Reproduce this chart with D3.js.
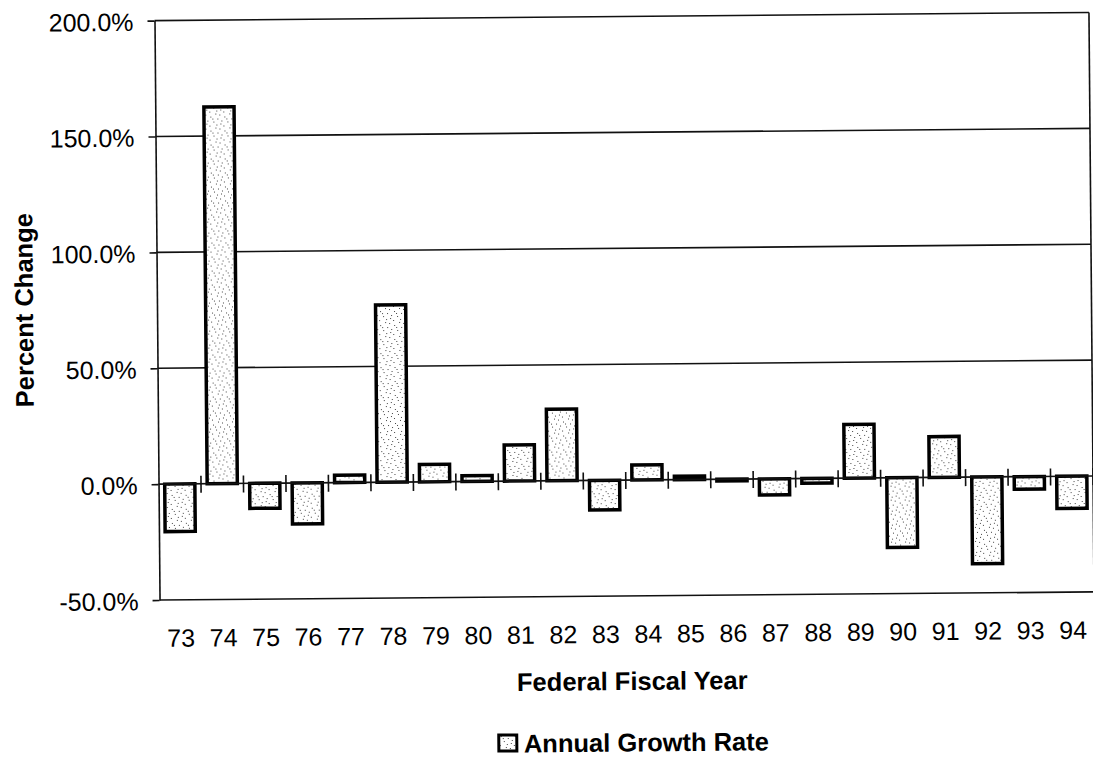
<!DOCTYPE html>
<html>
<head>
<meta charset="utf-8">
<script src="https://cdn.jsdelivr.net/npm/d3@7"></script>
<style>
  body { margin: 0; background: #fff; }
  svg { display: block; }
</style>
</head>
<body>
<svg id="chart" width="1093" height="757"></svg>
<script>
// Federal fiscal years (19xx) and the annual growth rate for each, in percent
const years = ["73","74","75","76","77","78","79","80","81","82","83",
               "84","85","86","87","88","89","90","91","92","93","94"];
const growthRate = [-20.5, 162.5, -10.8, -17.7, 3.2, 76.5, 7.5, 2.5, 15.6, 30.9, -12.8,
                    6.5, 1.5, -0.7, -6.9, -2.0, 23.2, -30.1, 17.6, -37.4, -5.4, -13.9];
const yTicks = [-50, 0, 50, 100, 150, 200];
const gridValues = [-50, 50, 100, 150, 200];
const seriesName = "Annual Growth Rate";
const xTitle = "Federal Fiscal Year";
const yTitle = "Percent Change";

const svg = d3.select("#chart");
const plot = { left: 157, right: 1091.5, top: 16.5, bottom: 596 };

// The whole page sits a touch off square, as a scanned sheet does
const root = svg.append("g").attr("transform", "rotate(-0.5, 624, 306)");

const x = d3.scaleBand()
  .domain(years)
  .range([plot.left, plot.right])
  .paddingInner(0.29)
  .paddingOuter(0.145);

const y = d3.scaleLinear()
  .domain([-50, 200])
  .range([plot.bottom, plot.top]);

// Stippled fill used by the bars and the legend swatch
const defs = svg.append("defs");
const pat = defs.append("pattern")
  .attr("id", "stipple")
  .attr("patternUnits", "userSpaceOnUse")
  .attr("width", 14).attr("height", 14);
pat.append("rect").attr("width", 14).attr("height", 14).attr("fill", "#fff");
[[2,1],[9,3],[5,6],[12,8],[1,10],[7,12],[11,13],[4,3],[13,5],[8,9]].forEach(([px, py]) => {
  pat.append("rect").attr("x", px).attr("y", py).attr("width", 1).attr("height", 1).attr("fill", "#444");
});

// Horizontal gridlines (top and bottom lines close the frame)
root.append("g").selectAll("line")
  .data(gridValues)
  .join("line")
  .attr("x1", plot.left).attr("x2", plot.right)
  .attr("y1", d => y(d)).attr("y2", d => y(d))
  .attr("stroke", "#111").attr("stroke-width", 1.6);

// Right edge of the frame
root.append("line")
  .attr("x1", plot.right).attr("x2", plot.right)
  .attr("y1", y(200)).attr("y2", y(-50))
  .attr("stroke", "#111").attr("stroke-width", 1.6);

// Bars
root.append("g").selectAll("rect")
  .data(years.map((yr, i) => ({ yr, v: growthRate[i] })))
  .join("rect")
  .attr("x", d => x(d.yr))
  .attr("width", x.bandwidth())
  .attr("y", d => y(Math.max(0, d.v)))
  .attr("height", d => Math.abs(y(d.v) - y(0)))
  .attr("fill", "url(#stipple)")
  .attr("stroke", "#000")
  .attr("stroke-width", 3.5);

// Zero line with category separator ticks crossing it
const zeroY = y(0);
root.append("line")
  .attr("x1", plot.left).attr("x2", plot.right)
  .attr("y1", zeroY).attr("y2", zeroY)
  .attr("stroke", "#111").attr("stroke-width", 1.6);

const step = x.step();
const boundaries = years.map(yr => x(yr) + x.bandwidth() + step * x.paddingOuter());
root.append("g").selectAll("line")
  .data(boundaries)
  .join("line")
  .attr("x1", d => d).attr("x2", d => d)
  .attr("y1", zeroY - 8).attr("y2", zeroY + 9)
  .attr("stroke", "#111").attr("stroke-width", 1.6);

// Y axis
const yAxis = root.append("g")
  .attr("transform", `translate(${plot.left},0)`)
  .call(d3.axisLeft(y)
    .tickValues(yTicks)
    .tickSize(7)
    .tickSizeOuter(0)
    .tickPadding(14)
    .tickFormat(d => d.toFixed(1) + "%"));
yAxis.select(".domain").attr("stroke", "#111").attr("stroke-width", 1.6);
yAxis.selectAll(".tick line").attr("stroke", "#111").attr("stroke-width", 1.6);
yAxis.selectAll(".tick text")
  .attr("font-family", "'Liberation Sans', Arial, sans-serif")
  .attr("font-size", 25)
  .attr("fill", "#000")
  .attr("dy", "0.38em");

// X axis category labels
const xAxis = root.append("g")
  .attr("transform", `translate(0,${plot.bottom})`)
  .call(d3.axisBottom(x).tickSize(0).tickPadding(29));
xAxis.select(".domain").remove();
xAxis.selectAll(".tick text")
  .attr("font-family", "'Liberation Sans', Arial, sans-serif")
  .attr("font-size", 25)
  .attr("fill", "#000");

// Axis titles
root.append("text")
  .attr("x", 629).attr("y", 690)
  .attr("text-anchor", "middle")
  .attr("font-family", "'Liberation Sans', Arial, sans-serif")
  .attr("font-weight", "bold")
  .attr("font-size", 25.5)
  .text(xTitle);

root.append("text")
  .attr("transform", "translate(33,305) rotate(-90)")
  .attr("text-anchor", "middle")
  .attr("font-family", "'Liberation Sans', Arial, sans-serif")
  .attr("font-weight", "bold")
  .attr("font-size", 25.5)
  .text(yTitle);

// Legend
const legend = root.append("g").attr("transform", "translate(495,734)");
legend.append("rect")
  .attr("x", 0).attr("y", 0).attr("width", 18).attr("height", 16)
  .attr("fill", "url(#stipple)")
  .attr("stroke", "#000").attr("stroke-width", 3);
legend.append("text")
  .attr("x", 25).attr("y", 17.5)
  .attr("font-family", "'Liberation Sans', Arial, sans-serif")
  .attr("font-weight", "bold")
  .attr("font-size", 25.5)
  .text(seriesName);
</script>
</body>
</html>
